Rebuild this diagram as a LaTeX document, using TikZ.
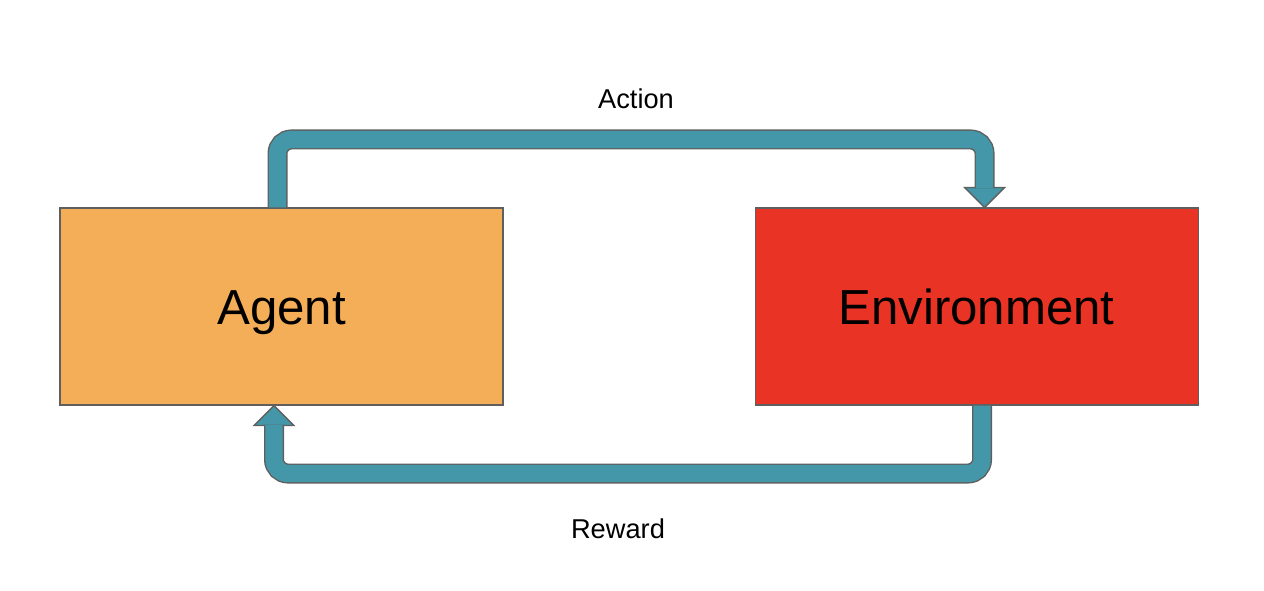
\documentclass[tikz,border=0pt]{standalone}
\usepackage{fontspec}
\setmainfont{Liberation Sans}
\usepackage{tikz}
\usetikzlibrary{positioning,calc}

\definecolor{agentcol}{HTML}{F4AE57}
\definecolor{envcol}{HTML}{E93324}
\definecolor{pipecol}{HTML}{4397A8}
\definecolor{edgecol}{HTML}{5F5F5F}

\begin{document}
\begin{tikzpicture}
		\tikzstyle{box}=[rectangle, draw=edgecol, line width=0.6pt, minimum width=8.86cm, minimum height=3.94cm, inner sep=0pt, text height=20pt, text depth=0pt, font=\fontsize{28}{32}\selectfont, node distance=5.02cm]
		\tikzstyle{pipe}=[draw=edgecol, line width=0.8pt, double=pipecol, double distance=9.78pt, rounded corners=0.28cm]
		\tikzstyle{head}=[fill=pipecol, draw=edgecol, line width=0.8pt, line join=miter]
		\tikzstyle{lbl}=[font=\fontsize{15.5}{18}\selectfont]
		\useasboundingbox (0,0) rectangle (25.28,11.8);
		
		\node[box, fill=agentcol] (agent) at (5.63,5.67) {Agent};
		\node[box, fill=envcol] (env) [right=of agent] {Environment};
		
		% action: agent -> environment
		\coordinate (atip) at ($(env.north)+(0.16,0)$);
		\filldraw[head] (atip) -- ++(-0.4,0.4) -- ++(0.8,0) -- cycle;
		\draw[pipe] ($(agent.north)+(-0.08,0)$) |- ($(atip)+(0,1.36)$) -- ($(atip)+(0,0.385)$);
		
		% reward: environment -> agent
		\coordinate (rtip) at ($(agent.south)+(-0.15,0)$);
		\filldraw[head] (rtip) -- ++(-0.4,-0.4) -- ++(0.8,0) -- cycle;
		\draw[pipe] ($(env.south)+(0.11,0)$) |- ($(rtip)+(0,-1.36)$) -- ($(rtip)+(0,-0.385)$);
		
		\node[lbl] (action) at (12.72,9.82) {Action};
		\node[lbl] (reward) at (12.36,1.22) {Reward};
		
	\end{tikzpicture}
\end{document}
